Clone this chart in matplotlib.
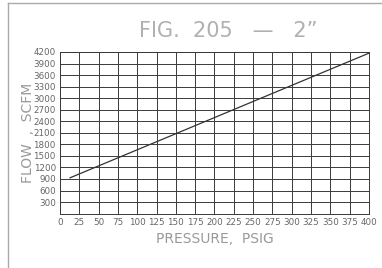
import numpy as np
import matplotlib.pyplot as plt
from matplotlib.lines import Line2D

# flow curve
pressure = [13, 400]
flow = [930, 4170]

x_ticks = list(range(0, 401, 25))
y_ticks = list(range(300, 4201, 300))

fig = plt.figure(figsize=(3.82, 2.68), dpi=100)
ax = fig.add_axes([0.157, 0.203, 0.809, 0.603])

ax.plot(pressure, flow, color='#333333', lw=0.9)

ax.set_xlim(0, 400)
ax.set_ylim(0, 4200)
ax.set_xticks(x_ticks)
ax.set_yticks(y_ticks)
ax.grid(True, color='#3a3a3a', lw=0.7)
for s in ax.spines.values():
    s.set_color('#3a3a3a')
    s.set_linewidth(0.7)
ax.tick_params(length=0, pad=3, labelsize=6.3, labelcolor='#666666')

ax.set_xlabel('PRESSURE,  PSIG', fontsize=10, color='#999999', labelpad=4)
ax.set_ylabel('FLOW  ,  SCFM', fontsize=10, color='#999999', labelpad=-1)
fig.text(228 / 382, 1 - 31 / 268, 'FIG.  205   \u2014   2\u201d', fontsize=15,
         color='#b0b0b0', ha='center', va='center')

# drawing frame
fig.add_artist(Line2D([8 / 382, 8 / 382], [0, 1 - 3 / 268], color='#aaaaaa', lw=1))
fig.add_artist(Line2D([8 / 382, 1], [1 - 3 / 268, 1 - 3 / 268], color='#aaaaaa', lw=1))

plt.savefig('out.png', dpi=100)
